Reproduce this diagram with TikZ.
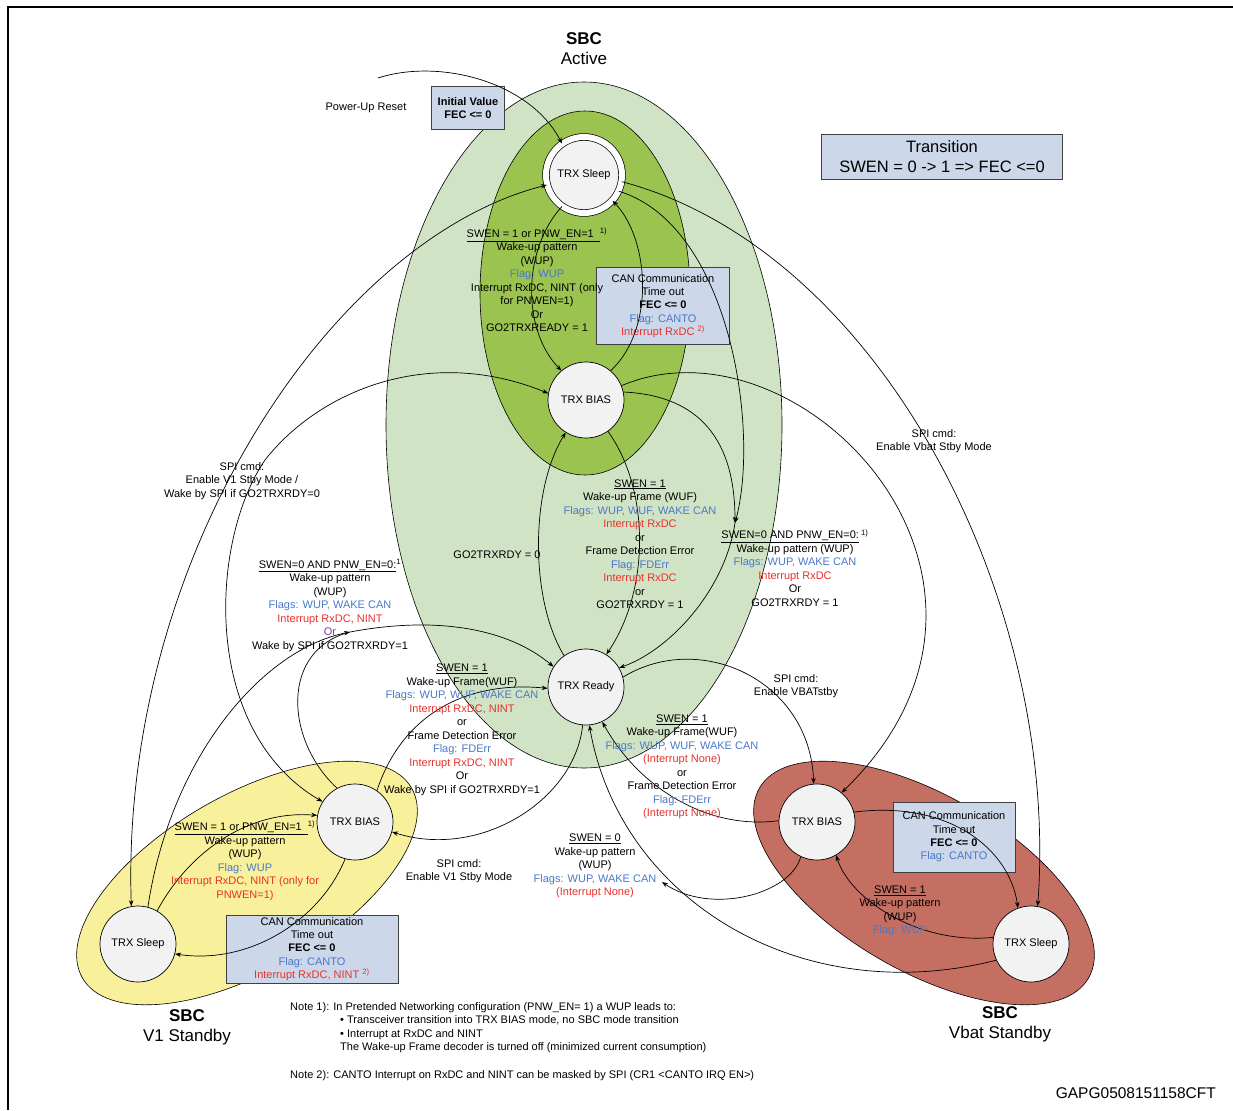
\documentclass[tikz,border=0pt]{standalone}
\usepackage{fontspec}
\setmainfont{Liberation Sans}
\usetikzlibrary{arrows.meta}
\definecolor{activegreen}{HTML}{D1E3C5}
\definecolor{trxgreen}{HTML}{9BC350}
\definecolor{v1yellow}{HTML}{F9F09B}
\definecolor{vbatred}{HTML}{C56E62}
\definecolor{statefill}{HTML}{F2F2F2}
\definecolor{boxfill}{HTML}{CCD7E9}
\definecolor{flagblue}{HTML}{4A78C8}
\definecolor{irqred}{HTML}{E8312B}
\definecolor{orpurple}{HTML}{7B3FA8}
\newcommand{\flg}[1]{\textcolor{flagblue}{#1}}
\newcommand{\irq}[1]{\textcolor{irqred}{#1}}
\tikzset{
  state/.style={circle,draw,fill=statefill,minimum size=76pt,inner sep=0pt,line width=.7pt,font=\fontsize{11}{13}\selectfont},
  infobox/.style={rectangle,draw=black!75,fill=boxfill,line width=.9pt,align=center,inner sep=0pt,font=\fontsize{11}{13.4}\selectfont},
  lbl/.style={align=center,inner sep=0pt,font=\fontsize{11}{13.5}\selectfont},
  notes/.style={inner sep=0pt,font=\fontsize{11}{13}\selectfont},
  sbcmode/.style={draw,line width=.6pt},
  trans/.style={line width=.7pt,-{Stealth[length=6pt,width=4.5pt]}},
  twoway/.style={line width=.7pt,{Stealth[length=6pt,width=4.5pt]}-{Stealth[length=6pt,width=4.5pt]}},
}
\begin{document}
\begin{tikzpicture}[x=1pt,y=-1pt]
\useasboundingbox (0,0) rectangle (1233,1110);
\draw[line width=2pt] (1233,7) -- (8,7) -- (8,1110);
% SBC modes
\draw[sbcmode,fill=activegreen] (584,425) ellipse [x radius=198pt,y radius=343pt];
\draw[sbcmode,fill=trxgreen] (585,293) ellipse [x radius=105pt,y radius=182pt];
\draw[sbcmode,fill=v1yellow,rotate around={30:(247,883)}] (247,883) ellipse [x radius=190pt,y radius=88pt];
\draw[sbcmode,fill=vbatred,rotate around={-30:(924,883)}] (924,883) ellipse [x radius=190pt,y radius=88pt];
\node (sbcact) at (584,49) [lbl,font=\fontsize{17}{20}\selectfont]{\textbf{SBC}\\Active};
\node (sbcv1) at (187,1027) [lbl,font=\fontsize{17}{20}\selectfont]{\textbf{SBC}\\V1 Standby};
\node (sbcvbat) at (1000,1024) [lbl,font=\fontsize{17}{20}\selectfont]{\textbf{SBC}\\Vbat Standby};
% boxes
\node (initv) at (468,108) [infobox,minimum width=73pt,minimum height=43pt,font=\bfseries\fontsize{11}{13}\selectfont]{Initial Value\\FEC <= 0};
\node (transbox) at (942,157) [infobox,minimum width=241pt,minimum height=45pt,font=\fontsize{16.5}{20}\selectfont]{Transition\\SWEN = 0 -> 1 => FEC <=0};
\node (cantop) at (663,306) [infobox,minimum width=133pt,minimum height=77pt]{CAN Communication\\Time out\\\textbf{FEC <= 0}\\\flg{Flag: CANTO}\\\irq{Interrupt RxDC \textsuperscript{2)}}};
\node (canleft) at (312,949) [infobox,minimum width=172pt,minimum height=68pt]{CAN Communication\\Time out\\\textbf{FEC <= 0}\\\flg{Flag: CANTO}\\\irq{Interrupt RxDC, NINT \textsuperscript{2)}}};
\node (canright) at (954,837) [infobox,minimum width=122pt,minimum height=70pt]{CAN Communication\\Time out\\\textbf{FEC <= 0}\\\flg{Flag: CANTO}};
% transceiver states
\node (ts) at (584,175) [state,double=white,double distance=6pt]{TRX Sleep};
\node (tb) at (586,400) [state]{TRX BIAS};
\node (tr) at (586,687) [state]{TRX Ready};
\node (lb) at (355,822) [state]{TRX BIAS};
\node (ls) at (138,944) [state]{TRX Sleep};
\node (rb) at (817,822) [state]{TRX BIAS};
\node (rs) at (1031,944) [state]{TRX Sleep};
\coordinate (pur) at (378,78);
\coordinate (wk1) at (735,523);
\coordinate (wk2) at (350,632);
\coordinate (wk3) at (662,882);
% SBC Active
\draw[trans] (pur) .. controls (440,58) and (530,82) .. (ts.125);
\draw[trans] (ts.235) .. controls (522,250) and (522,330) .. (tb.130);
\draw[trans] (tb.50) .. controls (655,330) and (650,240) .. (ts.318);
\draw[trans] (ts.335) .. controls (730,225) and (760,430) .. (wk1);
\draw[trans] (tb.12) .. controls (690,395) and (735,430) .. (wk1);
\draw[trans] (wk1) .. controls (725,590) and (670,650) .. (tr.30);
\draw[trans] (tb.305) .. controls (650,490) and (650,590) .. (tr.58);
\draw[trans] (tr.125) .. controls (530,600) and (530,490) .. (tb.238);
% Vbat Standby
\draw[trans] (tb.22) .. controls (800,310) and (1060,580) .. (rb.50);
\draw[trans] (ts.350) .. controls (880,250) and (1060,600) .. (rs.80);
\draw[trans] (tr.15) .. controls (700,630) and (810,680) .. (rb.95);
\draw[trans] (rb.178) .. controls (710,830) and (640,790) .. (tr.295);
\draw[trans] (rs.205) .. controls (800,1010) and (620,900) .. (tr.275);
\draw[trans] (rb.245) .. controls (790,895) and (710,915) .. (wk3);
\draw[trans] (rb.15) .. controls (950,800) and (1010,850) .. (rs.110);
\draw[trans] (rs.170) .. controls (920,945) and (850,900) .. (rb.300);
% V1 Standby
\draw[twoway] (ts.195) .. controls (330,240) and (120,560) .. (ls.100);
\draw[trans] (ls.75) .. controls (170,760) and (260,650) .. (wk2);
\draw[trans] (lb.118) .. controls (285,740) and (280,650) .. (wk2) .. controls (440,615) and (510,630) .. (tr.148);
\draw[twoway] (tb.170) .. controls (430,345) and (320,390) .. (265,460) .. controls (210,540) and (200,730) .. (lb.148);
\draw[trans] (lb.55) .. controls (400,720) and (460,680) .. (tr.182);
\draw[trans] (tr.265) .. controls (575,800) and (480,860) .. (lb.345);
\draw[trans] (ls.60) .. controls (190,850) and (250,810) .. (lb.170);
\draw[trans] (lb.255) .. controls (320,920) and (250,965) .. (ls.345);
% labels
\node (lpur) at (366,108) [lbl]{Power-Up Reset};
\node (lwup) at (537,280) [lbl]{\underline{SWEN = 1 or PNW\_EN=1\ \ }\textsuperscript{1)}\\Wake-up pattern\\(WUP)\\\flg{Flag: WUP}\\Interrupt RxDC, NINT (only\\for PNWEN=1)\\Or\\GO2TRXREADY = 1};
\node (lwuf) at (640,544) [lbl]{\underline{SWEN = 1}\\Wake-up Frame (WUF)\\\flg{Flags: WUP, WUF, WAKE CAN}\\\irq{Interrupt RxDC}\\or\\Frame Detection Error\\\flg{Flag: FDErr}\\\irq{Interrupt RxDC}\\or\\GO2TRXRDY = 1};
\node (lrdy0) at (497,555) [lbl]{GO2TRXRDY = 0};
\node (lsleeprdy) at (795,568) [lbl]{\underline{SWEN=0 AND PNW\_EN=0:}\textsuperscript{ 1)}\\Wake-up pattern (WUP)\\\flg{Flags: WUP, WAKE CAN}\\\irq{Interrupt RxDC}\\Or\\GO2TRXRDY = 1};
\node (lvbat) at (934,441) [lbl]{SPI cmd:\\Enable Vbat Stby Mode};
\node (lv1) at (242,481) [lbl]{SPI cmd:\\Enable V1 Stby Mode /\\Wake by SPI if GO2TRXRDY=0};
\node (lv1wup) at (330,605) [lbl]{\underline{SWEN=0 AND PNW\_EN=0:}\textsuperscript{1}\\Wake-up pattern\\(WUP)\\\flg{Flags: WUP, WAKE CAN}\\\irq{Interrupt RxDC, NINT}\\\textcolor{orpurple}{Or}\\Wake by SPI if GO2TRXRDY=1};
\node (lv1wuf) at (462,730) [lbl]{\underline{SWEN = 1}\\Wake-up Frame(WUF)\\\flg{Flags: WUP, WUF, WAKE CAN}\\\irq{Interrupt RxDC, NINT}\\or\\Frame Detection Error\\\flg{Flag: FDErr}\\\irq{Interrupt RxDC, NINT}\\Or\\Wake by SPI if GO2TRXRDY=1};
\node (lvbatcmd) at (796,686) [lbl]{SPI cmd:\\Enable VBATstby};
\node (lvbatwuf) at (682,767) [lbl]{\underline{SWEN = 1}\\Wake-up Frame(WUF)\\\flg{Flags: WUP, WUF, WAKE CAN}\\\irq{(Interrupt None)}\\or\\Frame Detection Error\\\flg{Flag: FDErr}\\\irq{(Interrupt None)}};
\node (lv1cmd) at (459,871) [lbl]{SPI cmd:\\Enable V1 Stby Mode};
\node (lvbatwup) at (595,866) [lbl]{\underline{SWEN = 0}\\Wake-up pattern\\(WUP)\\\flg{Flags: WUP, WAKE CAN}\\\irq{(Interrupt None)}};
\node (lv1pnw) at (245,861) [lbl]{\underline{SWEN = 1 or PNW\_EN=1\ \ }\textsuperscript{1)}\\Wake-up pattern\\(WUP)\\\flg{Flag: WUP}\\\irq{Interrupt RxDC, NINT (only for}\\\irq{PNWEN=1)}};
\node (lvbatsleep) at (900,911) [lbl]{\underline{SWEN = 1}\\Wake-up pattern\\(WUP)\\\flg{Flag: WUP}};
% notes
\node (note1) at (290,1010) [anchor=base west,notes]{Note 1): In Pretended Networking configuration (PNW\_EN= 1) a WUP leads to:};
\node (note1a) at (340,1023) [anchor=base west,notes]{\textbullet\ Transceiver transition into TRX BIAS mode, no SBC mode transition};
\node (note1b) at (340,1037) [anchor=base west,notes]{\textbullet\ Interrupt at RxDC and NINT};
\node (note1c) at (340,1050) [anchor=base west,notes]{The Wake-up Frame decoder is turned off (minimized current consumption)};
\node (note2) at (290,1078) [anchor=base west,notes]{Note 2): CANTO Interrupt on RxDC and NINT can be masked by SPI (CR1 <CANTO IRQ EN>)};
\node (gapg) at (1216,1098) [anchor=base east,inner sep=0pt,font=\fontsize{15.5}{18}\selectfont]{GAPG0508151158CFT};
\end{tikzpicture}
\end{document}
